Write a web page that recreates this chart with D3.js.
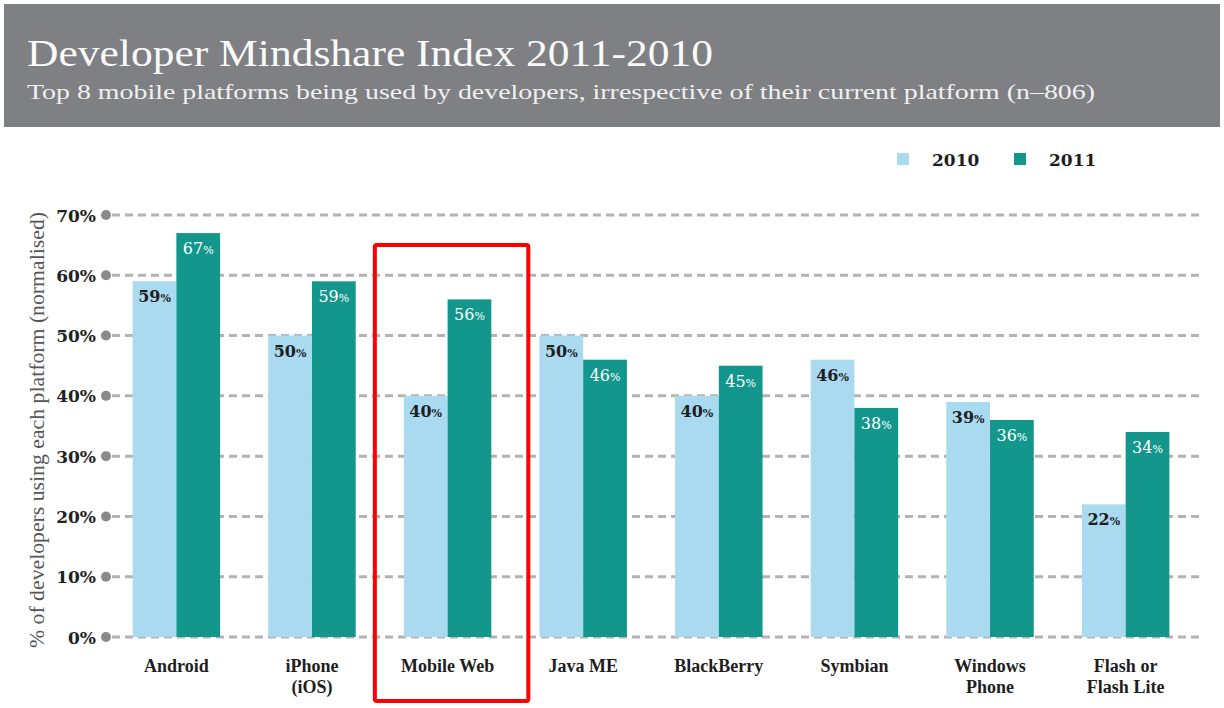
<!DOCTYPE html>
<html>
<head>
<meta charset="utf-8">
<script src="https://cdn.jsdelivr.net/npm/d3@7"></script>
<style>
  body { margin: 0; background: #fff; }
  svg { display: block; }
</style>
</head>
<body>
<div id="chart"></div>
<script>
// Datos
const platforms = ["Android", "iPhone (iOS)", "Mobile Web", "Java ME", "BlackBerry", "Symbian", "Windows Phone", "Flash or Flash Lite"];
const platformLines = [["Android"], ["iPhone", "(iOS)"], ["Mobile Web"], ["Java ME"], ["BlackBerry"], ["Symbian"], ["Windows", "Phone"], ["Flash or", "Flash Lite"]];
const years = ["2010", "2011"];
const values2010 = [59, 50, 40, 50, 40, 46, 39, 22];
const values2011 = [67, 59, 56, 46, 45, 38, 36, 34];
const yTicks = [0, 10, 20, 30, 40, 50, 60, 70];
const highlighted = "Mobile Web";

const W = 1224, H = 708;
const colors = { "2010": "#a9daf0", "2011": "#13978d" };

const svg = d3.select("#chart").append("svg")
    .attr("width", W)
    .attr("height", H);

// Cabecera gris
svg.append("rect")
    .attr("x", 4).attr("y", 4)
    .attr("width", 1216).attr("height", 123)
    .attr("fill", "#7e8083");

svg.append("text")
    .attr("x", 27).attr("y", 66)
    .attr("fill", "#fafafa")
    .style("font-family", "'Liberation Serif', serif")
    .style("font-size", "37px")
    .attr("textLength", 686)
    .attr("lengthAdjust", "spacingAndGlyphs")
    .text("Developer Mindshare Index 2011-2010");

svg.append("text")
    .attr("x", 27).attr("y", 99)
    .attr("fill", "#f0f0f0")
    .style("font-family", "'Liberation Serif', serif")
    .style("font-size", "21px")
    .attr("textLength", 1068)
    .attr("lengthAdjust", "spacingAndGlyphs")
    .text("Top  8 mobile platforms being used by developers, irrespective of their current platform (n\u2013806)");

// Escalas
const x0 = d3.scaleBand()
    .domain(platforms)
    .range([115, 1187])
    .paddingInner(0.355)
    .paddingOuter(0.13);

const x1 = d3.scaleBand()
    .domain(years)
    .range([0, x0.bandwidth()]);

const y = d3.scaleLinear()
    .domain([0, 70])
    .range([637, 215]);

// Rejilla discontinua
const grid = svg.append("g");
grid.selectAll("line")
    .data(yTicks)
    .join("line")
    .attr("x1", 112).attr("x2", 1200)
    .attr("y1", d => y(d)).attr("y2", d => y(d))
    .attr("stroke", "#b3b3b3")
    .attr("stroke-width", 3)
    .attr("stroke-dasharray", "8,5");

grid.selectAll("circle")
    .data(yTicks)
    .join("circle")
    .attr("cx", 106)
    .attr("cy", d => y(d))
    .attr("r", 5)
    .attr("fill", "#8a8a8a");

// Eje Y
svg.append("g")
    .attr("transform", "translate(96,0)")
    .call(d3.axisLeft(y).tickValues(yTicks).tickSize(0).tickPadding(0).tickFormat(d => d + "%"))
    .call(g => g.select(".domain").remove())
    .selectAll("text")
    .attr("dy", "0.36em")
    .attr("fill", "#222")
    .style("font-family", "'DejaVu Serif', serif")
    .style("font-weight", "bold")
    .style("font-size", "17px");

svg.append("text")
    .attr("transform", `translate(44, ${(y(0) + y(70)) / 2 + 4}) rotate(-90)`)
    .attr("text-anchor", "middle")
    .attr("fill", "#555")
    .style("font-family", "'Liberation Serif', serif")
    .style("font-size", "20px")
    .attr("textLength", 436)
    .attr("lengthAdjust", "spacingAndGlyphs")
    .text("% of developers using each platform (normalised)");

// Barras
const rows = platforms.map((p, i) => ({
    platform: p,
    bars: [
        { year: "2010", value: values2010[i] },
        { year: "2011", value: values2011[i] }
    ]
}));

const groups = svg.append("g")
    .selectAll("g")
    .data(rows)
    .join("g")
    .attr("transform", d => `translate(${x0(d.platform)},0)`);

groups.selectAll("rect")
    .data(d => d.bars)
    .join("rect")
    .attr("x", d => x1(d.year))
    .attr("y", d => y(d.value))
    .attr("width", x1.bandwidth())
    .attr("height", d => y(0) - y(d.value))
    .attr("fill", d => colors[d.year]);

groups.selectAll("text.val")
    .data(d => d.bars)
    .join("text")
    .attr("class", "val")
    .attr("x", d => x1(d.year) + x1.bandwidth() / 2)
    .attr("y", d => y(d.value) + 21)
    .attr("text-anchor", "middle")
    .attr("fill", d => d.year === "2010" ? "#1e1e1e" : "#ffffff")
    .style("font-family", "'DejaVu Serif', serif")
    .style("font-weight", d => d.year === "2010" ? "bold" : "normal")
    .style("font-size", "16px")
    .text(d => d.value)
    .append("tspan")
    .style("font-size", "11px")
    .text("%");

// Etiquetas de categoría
groups.append("text")
    .attr("text-anchor", "middle")
    .attr("fill", "#1e1e1e")
    .style("font-family", "'Liberation Serif', serif")
    .style("font-weight", "bold")
    .style("font-size", "18px")
    .selectAll("tspan")
    .data((d, i) => platformLines[i])
    .join("tspan")
    .attr("x", x0.bandwidth() / 2)
    .attr("y", (d, i) => 672 + i * 21)
    .text(d => d);

// Leyenda
const legend = svg.append("g");
const legendX = { "2010": 897, "2011": 1014 };
years.forEach(yr => {
    legend.append("rect")
        .attr("x", legendX[yr]).attr("y", 153)
        .attr("width", 12).attr("height", 12)
        .attr("fill", colors[yr]);
    legend.append("text")
        .attr("x", legendX[yr] + 35).attr("y", 166)
        .attr("fill", "#1e1e1e")
        .style("font-family", "'DejaVu Serif', serif")
        .style("font-weight", "bold")
        .style("font-size", "17px")
        .text(yr);
});

// Recuadro rojo de resalte
svg.append("rect")
    .attr("x", x0(highlighted) - 29)
    .attr("y", 245)
    .attr("width", x0.bandwidth() + 66)
    .attr("height", 456)
    .attr("fill", "none")
    .attr("stroke", "#ff0000")
    .attr("stroke-width", 4)
    .attr("rx", 2);
</script>
</body>
</html>
